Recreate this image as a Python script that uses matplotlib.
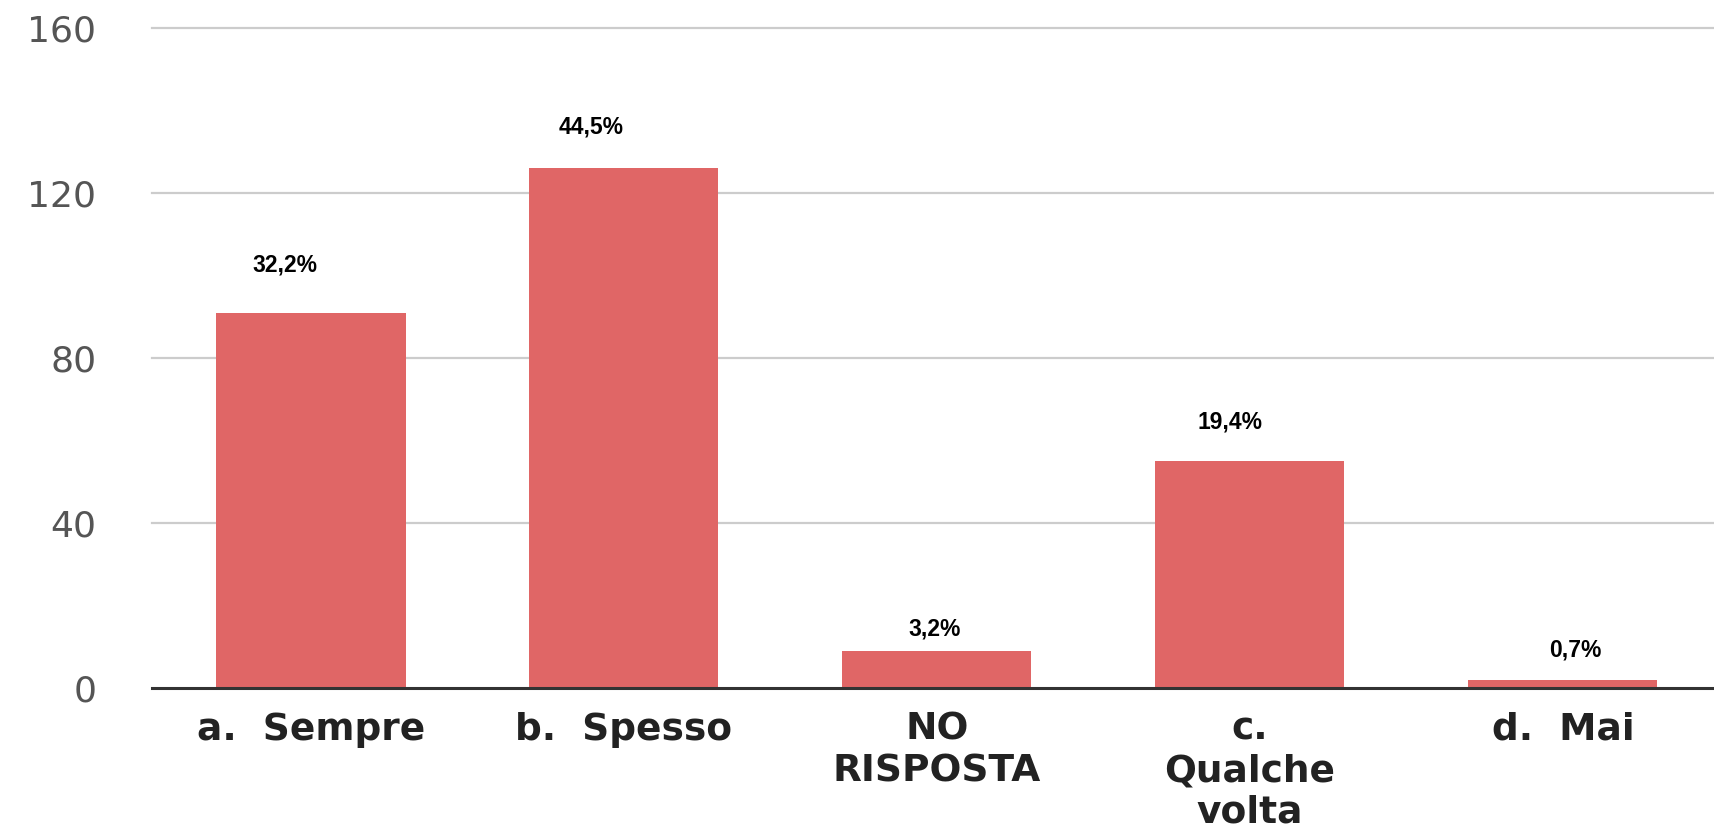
import matplotlib
matplotlib.use("Agg")
import matplotlib.pyplot as plt

# Data
categories = ["a.  Sempre", "b.  Spesso", "NO\nRISPOSTA", "c.\nQualche\nvolta", "d.  Mai"]
counts = [91, 126, 9, 55, 2]
pct_labels = ["32,2%", "44,5%", "3,2%", "19,4%", "0,7%"]
yticks = [0, 40, 80, 120, 160]

# Style: label offsets (points)
lab_dx = [-19, -24, -1.5, -14, 9]
lab_dy = [34, 29.5, 16, 28, 21.6]

W, H, DPI = 1715, 833, 100
fig = plt.figure(figsize=(W / DPI, H / DPI), dpi=DPI)
ax = fig.add_axes([152 / W, (H - 688) / H, (W - 152) / W, (688 - 28) / H])

x = list(range(len(categories)))
bars = ax.bar(x, counts, width=0.604, color="#E06666", zorder=3)

ax.set_xlim(-0.508, 4.486)
ax.set_ylim(0, 160)
ax.set_yticks(yticks)
ax.set_yticklabels([str(v) for v in yticks], fontsize=26, color="#555555",
                   family="DejaVu Sans")
ax.set_xticks(x)
ax.set_xticklabels(categories, fontsize=27, fontweight="bold", color="#222222",
                   family="DejaVu Sans", linespacing=1.2, va="top")
ax.tick_params(axis="y", length=0, pad=40)
ax.tick_params(axis="x", length=0, pad=17)

for s in ["top", "right", "left"]:
    ax.spines[s].set_visible(False)
ax.spines["bottom"].set_color("#333333")
ax.spines["bottom"].set_linewidth(2.2)
ax.spines["bottom"].set_zorder(4)

for v in yticks[1:]:
    ax.axhline(v, color="#cccccc", linewidth=1.6, zorder=1, clip_on=False)

for i, (b, lab) in enumerate(zip(bars, pct_labels)):
    ax.annotate(lab, (b.get_x() + b.get_width() / 2, b.get_height()),
                xytext=(lab_dx[i], lab_dy[i]), textcoords="offset points",
                ha="center", va="center", fontsize=16.5, fontweight="bold",
                family="Liberation Sans", color="black", zorder=5)

fig.savefig("out.png", dpi=DPI)
